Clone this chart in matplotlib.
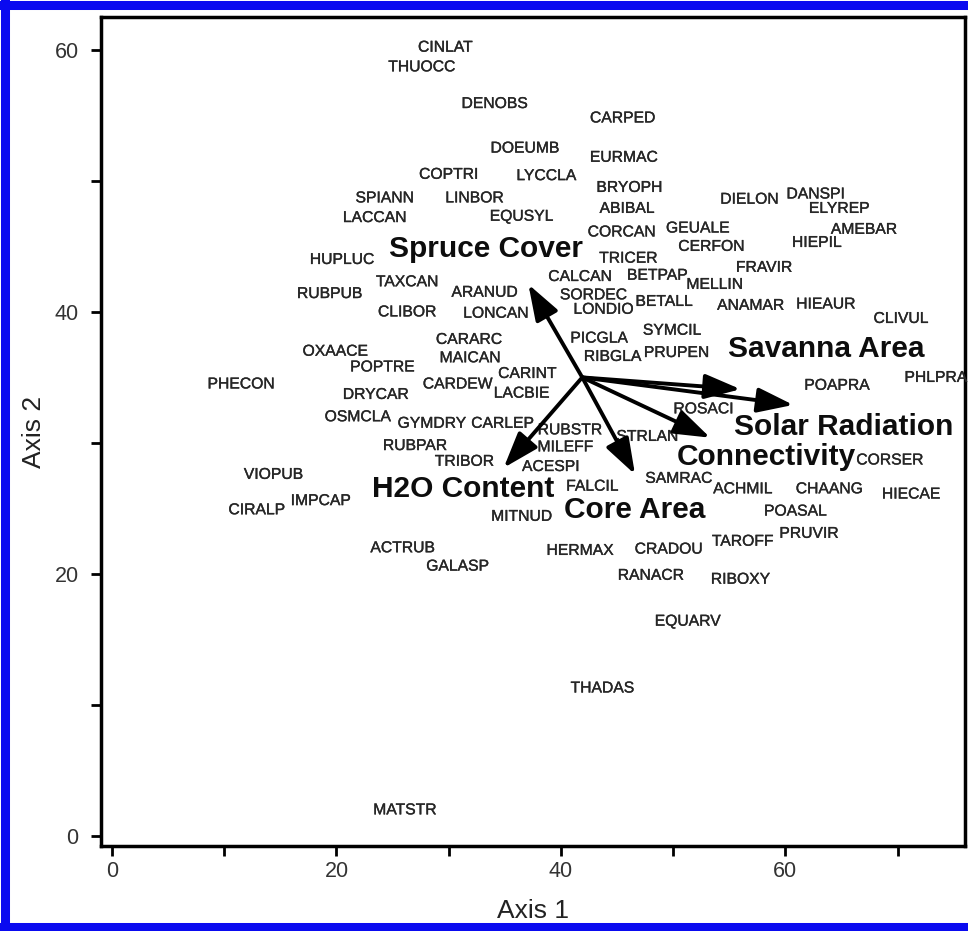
import matplotlib
matplotlib.use('Agg')
import matplotlib.pyplot as plt
import matplotlib.patheffects as pe
from matplotlib.lines import Line2D
from matplotlib.ticker import MultipleLocator

# species scores (Axis 1, Axis 2)
species = ['CINLAT', 'THUOCC', 'DENOBS', 'CARPED', 'DOEUMB', 'EURMAC', 'COPTRI',
           'LYCCLA', 'BRYOPH', 'SPIANN', 'LINBOR', 'DIELON', 'DANSPI', 'ELYREP',
           'ABIBAL', 'LACCAN', 'EQUSYL', 'AMEBAR', 'CORCAN', 'GEUALE', 'HIEPIL',
           'CERFON', 'HUPLUC', 'TRICER', 'FRAVIR', 'TAXCAN', 'CALCAN', 'BETPAP',
           'MELLIN', 'RUBPUB', 'ARANUD', 'SORDEC', 'CLIBOR', 'LONCAN', 'LONDIO',
           'BETALL', 'ANAMAR', 'HIEAUR', 'CLIVUL', 'SYMCIL', 'CARARC', 'PICGLA',
           'OXAACE', 'MAICAN', 'RIBGLA', 'PRUPEN', 'POPTRE', 'CARINT', 'PHECON',
           'CARDEW', 'DRYCAR', 'LACBIE', 'POAPRA', 'PHLPRA', 'OSMCLA', 'GYMDRY',
           'CARLEP', 'ROSACI', 'RUBSTR', 'RUBPAR', 'MILEFF', 'STRLAN', 'TRIBOR',
           'CORSER', 'ACESPI', 'VIOPUB', 'SAMRAC', 'FALCIL', 'ACHMIL', 'CHAANG',
           'HIECAE', 'IMPCAP', 'POASAL', 'CIRALP', 'MITNUD', 'PRUVIR', 'TAROFF',
           'ACTRUB', 'HERMAX', 'CRADOU', 'GALASP', 'RANACR', 'RIBOXY', 'EQUARV',
           'THADAS', 'MATSTR']
axis1 = [29.7, 27.6, 34.1, 45.5, 36.8, 45.6, 30.0,
         38.7, 46.1, 24.3, 32.3, 56.8, 62.7, 64.8,
         45.9, 23.4, 36.5, 67.0, 45.4, 52.2, 62.8,
         53.4, 20.5, 46.0, 58.1, 26.3, 41.7, 48.6,
         53.7, 19.4, 33.2, 42.9, 26.3, 34.2, 43.8,
         49.2, 56.9, 63.6, 70.3, 49.9, 31.8, 43.4,
         19.9, 31.9, 44.6, 50.3, 24.1, 37.0, 11.5,
         30.8, 23.5, 36.5, 64.6, 73.4, 21.9, 28.5,
         34.8, 52.7, 40.8, 27.0, 40.4, 47.7, 31.4,
         69.3, 39.1, 14.4, 50.5, 42.8, 56.2, 63.9,
         71.2, 18.6, 60.9, 12.9, 36.5, 62.1, 56.2,
         25.9, 41.7, 49.6, 30.8, 48.0, 56.0, 51.3,
         43.7, 26.1]
axis2 = [60.2, 58.7, 55.9, 54.8, 52.5, 51.8, 50.5,
         50.4, 49.5, 48.7, 48.7, 48.6, 49.0, 47.9,
         47.9, 47.2, 47.3, 46.3, 46.1, 46.4, 45.3,
         45.0, 44.0, 44.1, 43.4, 42.3, 42.7, 42.8,
         42.1, 41.4, 41.5, 41.3, 40.0, 39.9, 40.2,
         40.8, 40.5, 40.6, 39.5, 38.6, 37.9, 38.0,
         37.0, 36.5, 36.6, 36.9, 35.8, 35.3, 34.5,
         34.5, 33.7, 33.8, 34.4, 35.0, 32.0, 31.5,
         31.5, 32.6, 31.0, 29.8, 29.7, 30.5, 28.6,
         28.7, 28.2, 27.6, 27.3, 26.7, 26.5, 26.5,
         26.1, 25.6, 24.8, 24.9, 24.4, 23.1, 22.5,
         22.0, 21.8, 21.9, 20.6, 19.9, 19.6, 16.4,
         11.3, 2.0]

# environmental vectors
origin = (41.9, 35.0)
vectors = ['Spruce Cover', 'H2O Content', 'Core Area', 'Connectivity',
           'Savanna Area', 'Solar Radiation']
vec_x = [37.1, 34.9, 46.6, 53.3, 56.0, 60.7]
vec_y = [42.1, 28.1, 27.6, 30.4, 34.1, 32.9]
vec_label_x = [33.3, 31.3, 46.6, 58.3, 63.6, 65.2]
vec_label_y = [44.8, 26.5, 24.9, 28.9, 37.2, 31.2]

plt.rcParams['font.family'] = ['Liberation Sans', 'DejaVu Sans']

fig = plt.figure(figsize=(9.68, 9.31), dpi=100)
ax = fig.add_axes([0.1043, 0.0913, 0.8926, 0.8904])

thick = [pe.withStroke(linewidth=0.25, foreground='#262626')]
for name, x, y in zip(species, axis1, axis2):
    ax.text(x, y, name, fontsize=11.3, color='#262626', ha='center', va='center',
            path_effects=thick)

for i, name in enumerate(vectors):
    ax.annotate('', xy=(vec_x[i], vec_y[i]), xytext=origin,
                arrowprops=dict(arrowstyle='-|>,head_length=1.1,head_width=0.38',
                                lw=2.8, color='black', mutation_scale=20,
                                shrinkA=0, shrinkB=0))
    ax.text(vec_label_x[i], vec_label_y[i], name, fontsize=21.5, fontweight='bold',
            color='#0d0d0d', ha='center', va='center')

ax.set_xlim(-0.98, 76.0)
ax.set_ylim(-0.76, 62.5)
ax.xaxis.set_major_locator(MultipleLocator(20))
ax.xaxis.set_minor_locator(MultipleLocator(10))
ax.yaxis.set_major_locator(MultipleLocator(20))
ax.yaxis.set_minor_locator(MultipleLocator(10))
ax.tick_params(which='both', direction='out', length=7, width=2, color='black',
               labelsize=15.5, labelcolor='#333333')
ax.tick_params(axis='x', which='major', pad=4)
ax.tick_params(axis='y', which='major', pad=9)
for s in ax.spines.values():
    s.set_linewidth(2.5)
    s.set_color('black')

ax.set_xlabel('Axis 1', fontsize=19, color='#222222', labelpad=12)
ax.set_ylabel('Axis 2', fontsize=19, color='#222222', labelpad=6)

# blue frame on left, top and bottom (right side is cut off)
blue = '#0a0af0'
for xs, ys in [([4.5, 4.5], [0, 931]), ([0, 968], [926.5, 926.5]), ([0, 968], [4.5, 4.5])]:
    fig.lines.append(Line2D([v / 968 for v in xs], [v / 931 for v in ys],
                            transform=fig.transFigure, color=blue, linewidth=6.5))

fig.savefig('out.png', dpi=100)
